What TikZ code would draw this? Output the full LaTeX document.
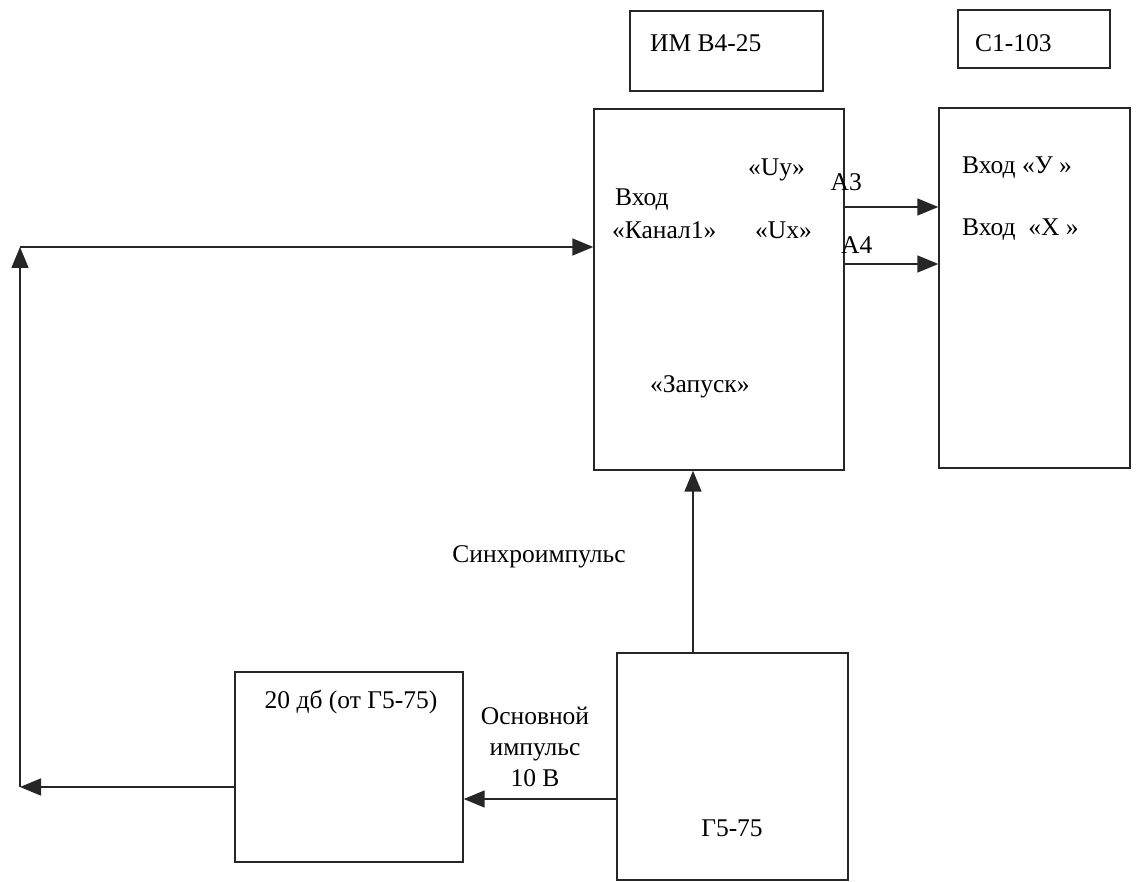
\documentclass[tikz,border=0pt]{standalone}
\usepackage{fontspec}
\setmainfont{Liberation Serif}
\usetikzlibrary{arrows.meta}
\begin{document}
\begin{tikzpicture}[x=1pt,y=-1pt,
  box/.style={draw=black!85,line width=1.4pt,rectangle,inner sep=0pt},
  lbl/.style={inner sep=0pt,font=\fontsize{25.5}{31}\selectfont},
  arr/.style={draw=black!85,line width=1.5pt,-{Triangle[length=21pt,width=17pt]}},
  ln/.style={draw=black!85,line width=1.5pt}]
\useasboundingbox[fill=white] (0,0) rectangle (1140,882);

% boxes
\node[box,minimum width=193pt,minimum height=80pt] (imlab) at (726.5,51) {};
\node[box,minimum width=152pt,minimum height=58pt] (c1lab) at (1034,39) {};
\node[box,minimum width=250pt,minimum height=361pt] (main) at (719,289.5) {};
\node[box,minimum width=191pt,minimum height=360pt] (osc) at (1034.5,288) {};
\node[box,minimum width=231pt,minimum height=227pt] (g5) at (732.5,766.5) {};
\node[box,minimum width=228pt,minimum height=190pt] (db) at (349,767) {};

% texts
\node[lbl,anchor=west] (t1) at (650,43) {ИМ В4-25};
\node[lbl,anchor=west] (t2) at (975,43) {С1-103};
\node[lbl,anchor=west] (uy) at (748,170) {«Uy»};
\node[lbl,anchor=west] (vh) at (615,200) {Вход};
\node[lbl,anchor=west] (kan) at (612,230) {«Канал1»};
\node[lbl,anchor=west] (ux) at (755,230) {«Ux»};
\node[lbl,anchor=east] (a3) at (862,182) {А3};
\node[lbl,anchor=west] (a4) at (841,245) {А4};
\node[lbl,anchor=west] (zap) at (650,387) {«Запуск»};
\node[lbl,anchor=west] (vy) at (962,168) {Вход «У »};
\node[lbl,anchor=west] (vx) at (962,230) {Вход\ \ «X »};
\node[lbl] (syn) at (539,557) {Синхроимпульс};
\node[lbl,align=center] (osn) at (535,747) {Основной\\импульс\\10 В};
\node[lbl] (dbt) at (351,702) {20 дб (от Г5-75)};
\node[lbl] (g5t) at (732,828) {Г5-75};

% connectors
\coordinate (cbl) at (20,787);
\coordinate (ctl) at (20,247);
\draw[arr] (g5.north -| 693,0) -- (main.south -| 693,0);
\draw[arr] (g5.west |- 0,799) -- (db.east |- 0,799);
\draw[arr] (db.west |- cbl) -- (cbl);
\draw[arr] (cbl) -- (ctl);
\draw[arr] (ctl) -- (main.west |- ctl);
\draw[arr] (main.east |- 0,207) -- (osc.west |- 0,207);
\draw[arr] (main.east |- 0,264) -- (osc.west |- 0,264);
\end{tikzpicture}
\end{document}
